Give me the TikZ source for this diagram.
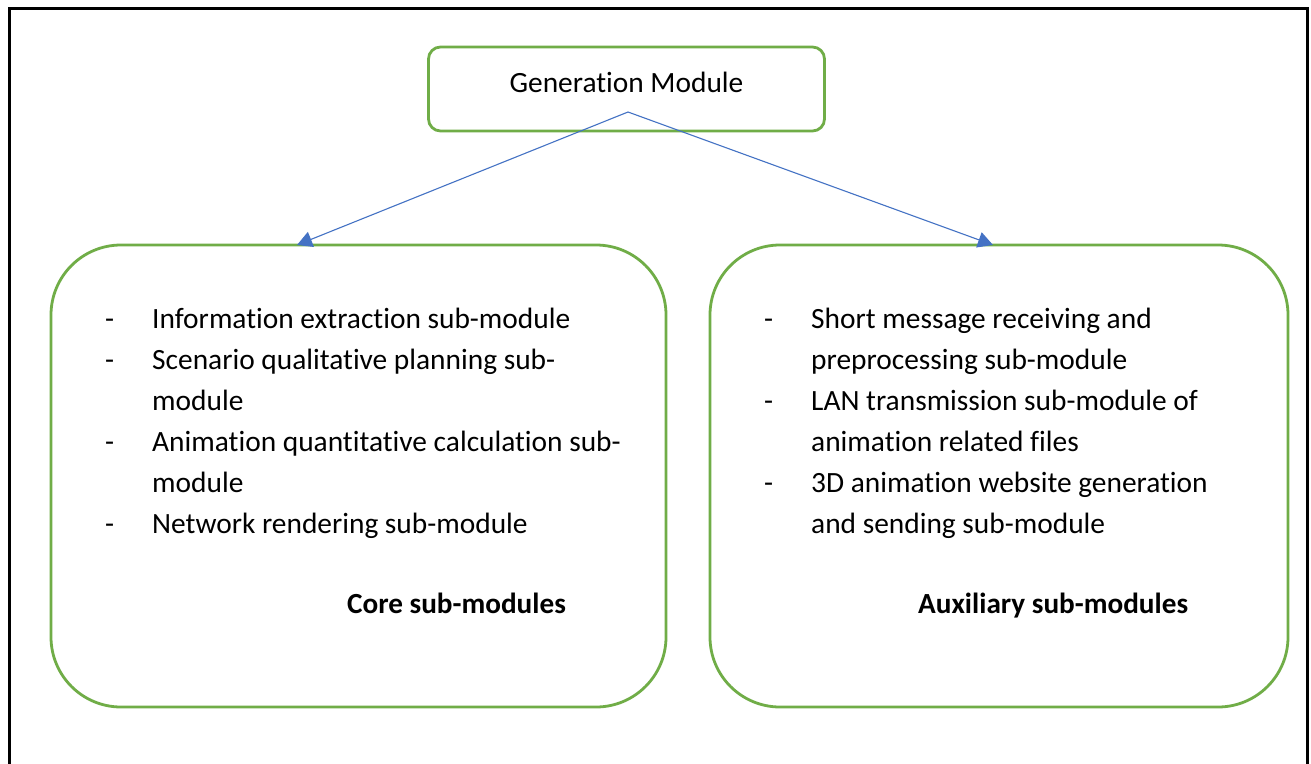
\documentclass[tikz,border=0pt]{standalone}
\usepackage{fontspec}
\setmainfont[Ligatures=NoCommon]{Carlito}
\usetikzlibrary{arrows.meta}
\definecolor{boxgreen}{HTML}{70AD47}
\definecolor{arrowblue}{HTML}{4472C4}
\begin{document}
\begin{tikzpicture}[x=1pt,y=-1pt,
  gbox/.style={draw=boxgreen,line width=2.8pt,fill=white,inner sep=0pt},
  conn/.style={draw=arrowblue,line width=1.1pt,-{Triangle[length=15pt,width=16pt]}},
  txt/.style={font=\fontsize{29.4}{41}\selectfont,inner sep=0pt,anchor=base west,align=left},
  bullet/.style={font=\fontsize{29.4}{41}\selectfont,inner sep=0pt,anchor=base west},
  lbl/.style={font=\fontsize{29.2}{41}\selectfont\bfseries,inner sep=0pt,anchor=base west}]
\useasboundingbox (0,0) rectangle (1311,763);
\fill[white] (0,0) rectangle (1311,763);
% outer frame
\draw[black,line width=3pt] (9.5,775) -- (9.5,8.5) -- (1307.5,8.5) -- (1307.5,775);
% boxes
\node[gbox,rounded corners=12pt,minimum width=396pt,minimum height=84pt] (gen) at (626.5,89) {};
\node[font=\fontsize{29.4}{34}\selectfont,inner sep=0pt,anchor=base] (gentxt) at (626.5,92) {Generation Module};
\node[gbox,rounded corners=70pt,minimum width=615pt,minimum height=462pt] (core) at (358.5,476) {};
\node[gbox,rounded corners=70pt,minimum width=578pt,minimum height=462pt] (aux) at (999,476) {};
% connectors
\coordinate (apex) at (628,112);
\coordinate (coreIn) at (297,245);
\coordinate (auxIn) at (993,245);
\draw[conn] (apex) -- (coreIn);
\draw[conn] (apex) -- (auxIn);
% left list (multi-line nodes are placed at their last baseline)
\node[bullet] (d1) at (105,328) {-};
\node[txt] (c1) at (152,328) {Information extraction sub-module};
\node[bullet] (d2) at (105,369) {-};
\node[txt] (c2) at (152,410) {Scenario qualitative planning sub-\\module};
\node[bullet] (d3) at (105,451) {-};
\node[txt] (c3) at (152,492) {Animation quantitative calculation sub-\\module};
\node[bullet] (d4) at (105,533) {-};
\node[txt] (c4) at (152,533) {Network rendering sub-module};
\node[lbl] (corelbl) at (347,613) {Core sub-modules};
% right list
\node[bullet] (e1) at (764,328) {-};
\node[txt] (a1) at (811,369) {Short message receiving and\\preprocessing sub-module};
\node[bullet] (e2) at (764,410) {-};
\node[txt] (a2) at (811,451) {LAN transmission sub-module of\\animation related files};
\node[bullet] (e3) at (764,492) {-};
\node[txt] (a3) at (811,533) {3D animation website generation\\and sending sub-module};
\node[lbl] (auxlbl) at (918,613) {Auxiliary sub-modules};
\end{tikzpicture}
\end{document}
